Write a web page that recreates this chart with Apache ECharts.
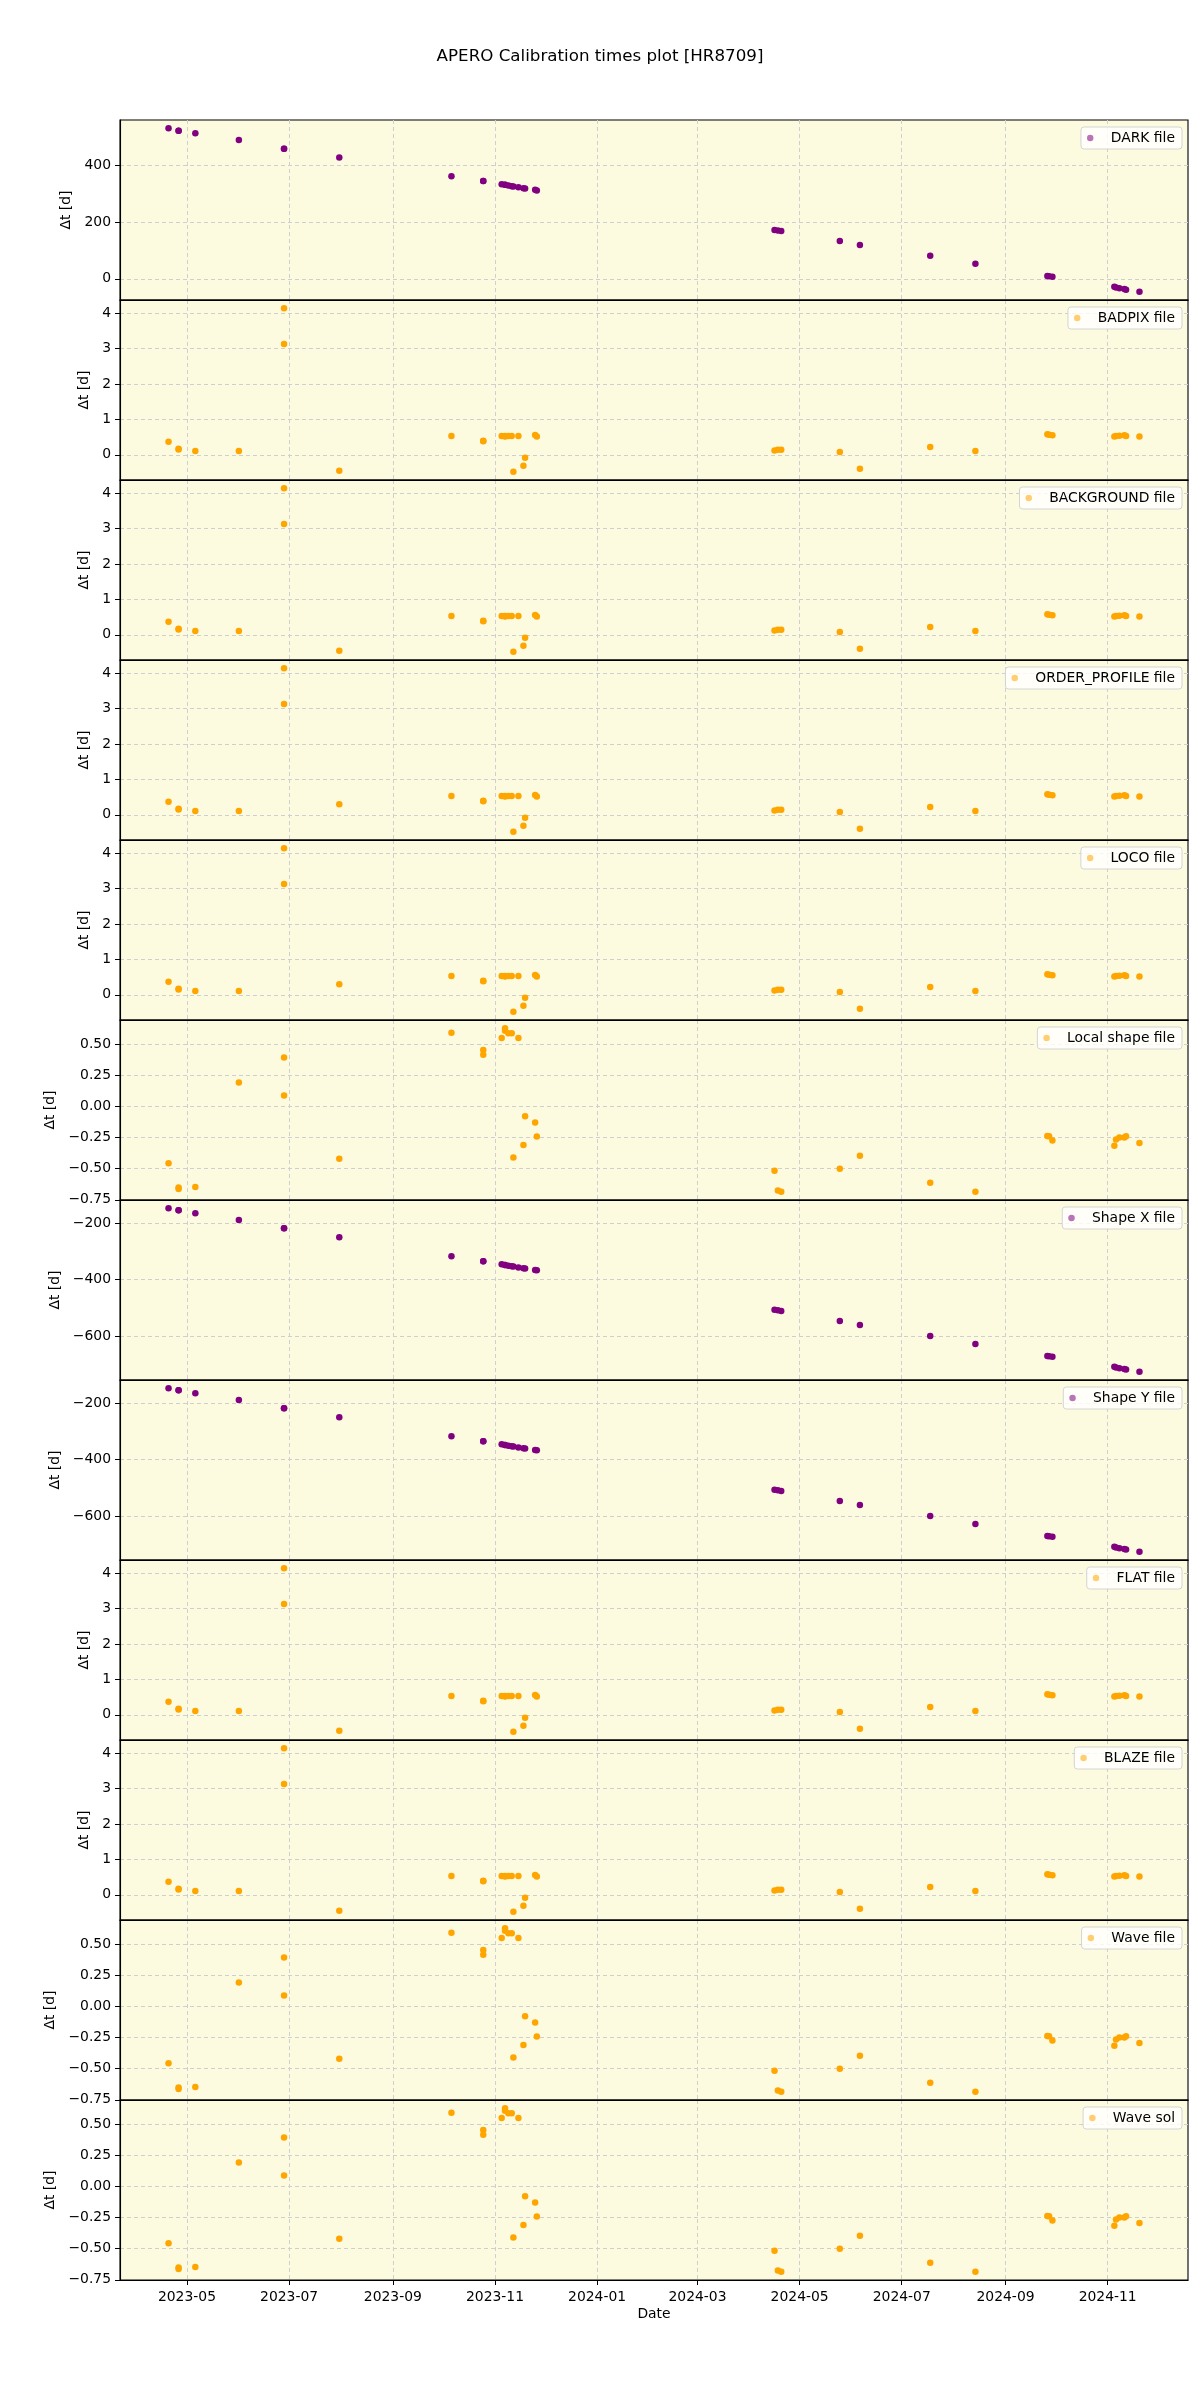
<!DOCTYPE html>
<html>
<head>
<meta charset="utf-8">
<script src="https://cdn.jsdelivr.net/npm/echarts@6/dist/echarts.min.js"></script>
<style>html,body{margin:0;padding:0;background:#fff}#main{width:1200px;height:2400px}</style>
</head>
<body>
<div id="main"></div>
<script>
// ---------------- DATA ----------------
const dates = ['2023-04-20','2023-04-26','2023-04-26','2023-05-06','2023-06-01','2023-06-28','2023-06-28','2023-07-31',
  '2023-10-06','2023-10-25','2023-10-25','2023-11-05','2023-11-07','2023-11-07','2023-11-09','2023-11-11','2023-11-12',
  '2023-11-15','2023-11-18','2023-11-19','2023-11-25','2023-11-26','2024-04-16','2024-04-18','2024-04-20','2024-05-25',
  '2024-06-06','2024-07-18','2024-08-14','2024-09-26','2024-09-27','2024-09-29','2024-11-05','2024-11-06','2024-11-08',
  '2024-11-11','2024-11-12','2024-11-20'];

const darkValues = [530, 521, 521, 512, 488, 458, 458, 427, 361, 344, 344, 333, 331, 331, 328, 326, 325, 322, 319, 318,
  313, 311, 172, 170, 168, 133, 119, 81, 53, 10, 9, 7, -28, -31, -33, -36, -39, -46];
const badpixValues = [0.37, 0.17, 0.15, 0.11, 0.11, 4.14, 3.13, -0.45, 0.53, 0.40, 0.38, 0.53, 0.53, 0.52, 0.53, 0.53,
  -0.48, 0.53, -0.31, -0.08, 0.56, 0.52, 0.12, 0.14, 0.14, 0.08, -0.39, 0.22, 0.11, 0.58, 0.57, 0.55, 0.52, 0.53, 0.54,
  0.55, 0.53, 0.52];
const backgroundValues = [0.37, 0.17, 0.15, 0.11, 0.11, 4.14, 3.13, -0.45, 0.53, 0.40, 0.38, 0.53, 0.53, 0.52, 0.53, 0.53,
  -0.48, 0.53, -0.31, -0.08, 0.56, 0.52, 0.12, 0.14, 0.14, 0.08, -0.39, 0.22, 0.11, 0.58, 0.57, 0.55, 0.52, 0.53, 0.54,
  0.55, 0.53, 0.52];
const orderProfileValues = [0.37, 0.17, 0.15, 0.11, 0.11, 4.14, 3.13, 0.30, 0.53, 0.40, 0.38, 0.53, 0.53, 0.52, 0.53, 0.53,
  -0.48, 0.53, -0.31, -0.08, 0.56, 0.52, 0.12, 0.14, 0.14, 0.08, -0.39, 0.22, 0.11, 0.58, 0.57, 0.55, 0.52, 0.53, 0.54,
  0.55, 0.53, 0.52];
const locoValues = [0.37, 0.17, 0.15, 0.11, 0.11, 4.14, 3.13, 0.30, 0.53, 0.40, 0.38, 0.53, 0.53, 0.52, 0.53, 0.53,
  -0.48, 0.53, -0.31, -0.08, 0.56, 0.52, 0.12, 0.14, 0.14, 0.08, -0.39, 0.22, 0.11, 0.58, 0.57, 0.55, 0.52, 0.53, 0.54,
  0.55, 0.53, 0.52];
const localShapeValues = [-0.457, -0.652, -0.663, -0.648, 0.193, 0.395, 0.089, -0.42, 0.594, 0.454, 0.416, 0.551, 0.63,
  0.61, 0.59, 0.59, -0.409, 0.551, -0.31, -0.078, -0.129, -0.242, -0.516, -0.675, -0.686, -0.50, -0.395, -0.613, -0.685,
  -0.237, -0.24, -0.274, -0.315, -0.266, -0.25, -0.25, -0.24, -0.293];
const shapeXValues = [-147, -154, -154, -165, -189, -218, -218, -250, -317, -335, -335, -346, -348, -348, -351, -353,
  -354, -357, -360, -361, -366, -367, -507, -509, -511, -547, -561, -600, -628, -671, -672, -674, -709, -712, -714,
  -717, -719, -727];
const shapeYValues = [-147, -154, -154, -165, -189, -218, -218, -250, -317, -335, -335, -346, -348, -348, -351, -353,
  -354, -357, -360, -361, -366, -367, -507, -509, -511, -547, -561, -600, -628, -671, -672, -674, -709, -712, -714,
  -717, -719, -727];
const flatValues = [0.37, 0.17, 0.15, 0.11, 0.11, 4.14, 3.13, -0.45, 0.53, 0.40, 0.38, 0.53, 0.53, 0.52, 0.53, 0.53,
  -0.48, 0.53, -0.31, -0.08, 0.56, 0.52, 0.12, 0.14, 0.14, 0.08, -0.39, 0.22, 0.11, 0.58, 0.57, 0.55, 0.52, 0.53, 0.54,
  0.55, 0.53, 0.52];
const blazeValues = [0.37, 0.17, 0.15, 0.11, 0.11, 4.14, 3.13, -0.45, 0.53, 0.40, 0.38, 0.53, 0.53, 0.52, 0.53, 0.53,
  -0.48, 0.53, -0.31, -0.08, 0.56, 0.52, 0.12, 0.14, 0.14, 0.08, -0.39, 0.22, 0.11, 0.58, 0.57, 0.55, 0.52, 0.53, 0.54,
  0.55, 0.53, 0.52];
const waveFileValues = [-0.457, -0.652, -0.663, -0.648, 0.193, 0.395, 0.089, -0.42, 0.594, 0.454, 0.416, 0.551, 0.63,
  0.61, 0.59, 0.59, -0.409, 0.551, -0.31, -0.078, -0.129, -0.242, -0.516, -0.675, -0.686, -0.50, -0.395, -0.613, -0.685,
  -0.237, -0.24, -0.274, -0.315, -0.266, -0.25, -0.25, -0.24, -0.293];
const waveSolValues = [-0.457, -0.652, -0.663, -0.648, 0.193, 0.395, 0.089, -0.42, 0.594, 0.454, 0.416, 0.551, 0.63,
  0.61, 0.59, 0.59, -0.409, 0.551, -0.31, -0.078, -0.129, -0.242, -0.516, -0.675, -0.686, -0.50, -0.395, -0.613, -0.685,
  -0.237, -0.24, -0.274, -0.315, -0.266, -0.25, -0.25, -0.24, -0.293];

const xTickLabels = ['2023-05','2023-07','2023-09','2023-11','2024-01','2024-03','2024-05','2024-07','2024-09','2024-11'];
const darkTicks = [0, 200, 400];
const unitTicks = [0, 1, 2, 3, 4];
const fracTicks = [-0.75, -0.5, -0.25, 0, 0.25, 0.5];
const shapeTicks = [-600, -400, -200];

const panelNames = ['DARK file','BADPIX file','BACKGROUND file','ORDER_PROFILE file','LOCO file','Local shape file',
  'Shape X file','Shape Y file','FLAT file','BLAZE file','Wave file','Wave sol'];

// ---------------- CHART ----------------
const ORANGE = '#FFA500', PURPLE = '#800080';
const FONT = 'DejaVu Sans';
const panelValues = [darkValues, badpixValues, backgroundValues, orderProfileValues, locoValues, localShapeValues,
  shapeXValues, shapeYValues, flatValues, blazeValues, waveFileValues, waveSolValues];
const panelColors = [PURPLE, ORANGE, ORANGE, ORANGE, ORANGE, ORANGE, PURPLE, PURPLE, ORANGE, ORANGE, ORANGE, ORANGE];
const panelTicks = [darkTicks, unitTicks, unitTicks, unitTicks, unitTicks, fracTicks, shapeTicks, shapeTicks,
  unitTicks, unitTicks, fracTicks, fracTicks];
const panelDec = [0, 0, 0, 0, 0, 2, 0, 0, 0, 0, 2, 2];
const panelNameGap = [42, 22, 22, 22, 22, 57, 52, 52, 22, 22, 57, 57];

const ts = s => { const p = s.split('-').map(Number); return new Date(p[0], p[1] - 1, p[2] || 1).getTime(); };
const xs = dates.map(ts);
const xLo = Math.min(...xs), xHi = Math.max(...xs), xSpan = xHi - xLo;
const xMin = xLo - 0.05 * xSpan, xMax = xHi + 0.05 * xSpan;
const xTicks = xTickLabels.map(ts);
const pad2 = n => (n < 10 ? '0' : '') + n;
const fmtDate = v => { const d = new Date(v); return d.getFullYear() + '-' + pad2(d.getMonth() + 1); };
const fmtNum = (v, dec) => { const s = Math.abs(v).toFixed(dec); return (v < -1e-12 ? '\u2212' : '') + s; };

const LEFT = 120, WIDTH = 1068, TOP = 120, H = 180;
const grids = [], xAxes = [], yAxes = [], series = [], legends = [];
const dashed = { show: true, lineStyle: { color: '#cfcfcf', width: 1, type: [4, 3] } };

panelNames.forEach((name, i) => {
  const vals = panelValues[i];
  const lo = Math.min(...vals), hi = Math.max(...vals), sp = hi - lo;
  const last = i === panelNames.length - 1;
  grids.push({ left: LEFT, width: WIDTH, top: TOP + H * i, height: H, show: true,
    backgroundColor: '#FCFBE0', borderColor: '#000', borderWidth: 1.1, outerBoundsMode: 'none', containLabel: false });
  xAxes.push({ type: 'value', gridIndex: i, min: xMin, max: xMax, scale: true, zlevel: 1, z: 2,
    axisLine: { show: true, onZero: false, lineStyle: { color: '#000', width: 1.1 } },
    axisTick: { show: last, customValues: xTicks, length: 5, lineStyle: { color: '#000' } },
    axisLabel: { show: last, customValues: xTicks, formatter: fmtDate, color: '#000', fontSize: 13.9,
      fontFamily: FONT, margin: 10, hideOverlap: false },
    splitLine: dashed,
    name: last ? 'Date' : '', nameLocation: 'middle', nameGap: 27,
    nameTextStyle: { color: '#000', fontSize: 13.9, fontFamily: FONT } });
  yAxes.push({ type: 'value', gridIndex: i, min: lo - 0.05 * sp, max: hi + 0.05 * sp, scale: true, z: 1,
    axisLine: { show: true, onZero: false, lineStyle: { color: '#000', width: 1.1 } },
    axisTick: { show: true, customValues: panelTicks[i], length: 5, lineStyle: { color: '#000' } },
    axisLabel: { show: true, customValues: panelTicks[i], formatter: v => fmtNum(v, panelDec[i]), color: '#000',
      fontSize: 13.9, fontFamily: FONT, margin: 9, showMinLabel: true, showMaxLabel: true },
    splitLine: dashed,
    name: '\u0394t [d]', nameLocation: 'middle', nameGap: panelNameGap[i], nameRotate: 90,
    nameTextStyle: { color: '#000', fontSize: 13.9, fontFamily: FONT } });
  series.push({ name, type: 'scatter', xAxisIndex: i, yAxisIndex: i,
    data: xs.map((x, k) => [x, vals[k]]), symbolSize: 6.5,
    itemStyle: { color: panelColors[i], opacity: 1 }, z: 3 });
  legends.push({ data: [name], right: 1200 - LEFT - WIDTH + 6, top: TOP + H * i + 7, selectedMode: false,
    zlevel: 1, z: 10,
    itemWidth: 31, itemHeight: 6.5, padding: [4, 7, 4, 6], backgroundColor: 'rgba(255,255,255,0.8)',
    borderColor: '#d4d4d4', borderWidth: 1, borderRadius: 3,
    itemStyle: { opacity: 0.55 },
    textStyle: { color: '#000', fontSize: 13.9, fontFamily: FONT } });
});

const chart = echarts.init(document.getElementById('main'), null, { renderer: 'canvas' });
chart.setOption({
  animation: false,
  backgroundColor: '#ffffff',
  title: { text: 'APERO Calibration times plot [HR8709]', left: 'center', top: 43,
    textStyle: { color: '#000', fontSize: 16.7, fontWeight: 'normal', fontFamily: FONT } },
  grid: grids, xAxis: xAxes, yAxis: yAxes, series, legend: legends
});
</script>
</body>
</html>
